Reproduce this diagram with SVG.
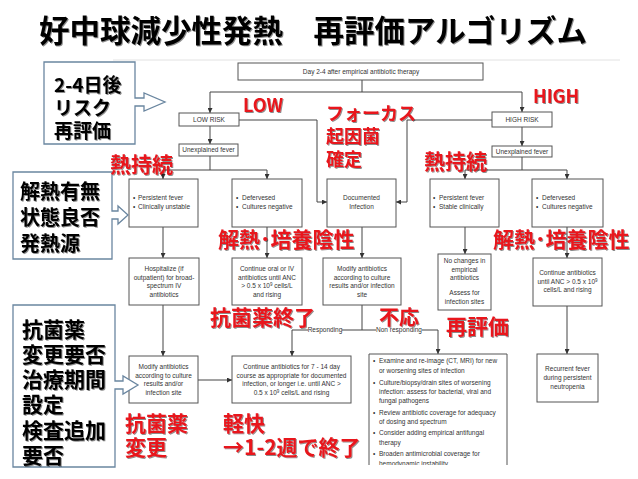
<svg xmlns="http://www.w3.org/2000/svg" width="638" height="479" viewBox="0 0 638 479">
<defs>
<style>
.bx{fill:#fff;stroke:#555;stroke-width:1}
.t{font-family:"Liberation Sans",Arial,sans-serif;font-size:6.5px;fill:#333;text-anchor:middle}
.tl{font-family:"Liberation Sans",Arial,sans-serif;font-size:6.5px;fill:#333}
.cn{fill:none;stroke:#444;stroke-width:1}
.red{font-family:"Noto Sans CJK JP",sans-serif;font-weight:700;fill:#e8161c;dominant-baseline:central}
.blk{font-family:"Noto Sans CJK JP",sans-serif;font-weight:700;fill:#000;dominant-baseline:central}
.call{fill:#fff;stroke:#6a86a0;stroke-width:1.3}
</style>
<marker id="ah" markerWidth="5" markerHeight="5" refX="5" refY="2.5" orient="auto" markerUnits="userSpaceOnUse"><path d="M0,0 L5,2.5 L0,5 Z" fill="#333"/></marker>
<filter id="sh" x="-5%" y="-5%" width="110%" height="120%"><feDropShadow dx="1" dy="1" stdDeviation="0.6" flood-color="#000" flood-opacity="0.45"/></filter>
<clipPath id="cut"><rect x="0" y="0" width="638" height="465"/></clipPath>
</defs>
<rect width="638" height="479" fill="#fff"/>

<g id="title"><text x="39" y="29" class="blk" font-size="30.5" filter="url(#sh)">好中球減少性発熱　再評価アルゴリズム</text></g>
<line x1="113" y1="60" x2="620" y2="60" stroke="#e2e2e2" stroke-width="1"/>

<g id="connectors">
<path class="cn" d="M362,80 V92 M210,92 H522"/>
<path class="cn" d="M210,92 V113" marker-end="url(#ah)"/>
<path class="cn" d="M522,92 V112" marker-end="url(#ah)"/>
<path class="cn" d="M210,126 V144" marker-end="url(#ah)"/>
<path class="cn" d="M522,127 V146" marker-end="url(#ah)"/>
<path class="cn" d="M239,120 H317 V202 H327" marker-end="url(#ah)"/>
<path class="cn" d="M492,120 H407 V202 H396" marker-end="url(#ah)"/>
<path class="cn" d="M210,156 V170 M163,170 H267"/>
<path class="cn" d="M163,170 V179" marker-end="url(#ah)"/>
<path class="cn" d="M267,170 V179" marker-end="url(#ah)"/>
<path class="cn" d="M522,157 V170 M465,170 H567"/>
<path class="cn" d="M465,170 V179" marker-end="url(#ah)"/>
<path class="cn" d="M567,170 V179" marker-end="url(#ah)"/>
<path class="cn" d="M163,227 V258" marker-end="url(#ah)"/>
<path class="cn" d="M267,227 V258" marker-end="url(#ah)"/>
<path class="cn" d="M362,227 V258" marker-end="url(#ah)"/>
<path class="cn" d="M465,227 V254" marker-end="url(#ah)"/>
<path class="cn" d="M567,227 V258" marker-end="url(#ah)"/>
<path class="cn" d="M163,305 V356" marker-end="url(#ah)"/>
<path class="cn" d="M198,380 H232" marker-end="url(#ah)"/>
<path class="cn" d="M362,305 V330 M292,330 H438"/>
<path class="cn" d="M292,330 V356" marker-end="url(#ah)"/>
<path class="cn" d="M438,330 V354" marker-end="url(#ah)"/>
<path class="cn" d="M567,306 V354" marker-end="url(#ah)"/>
<rect x="308" y="326" width="34" height="8" fill="#fff"/>
<text x="325" y="332.3" class="t">Responding</text>
<rect x="376" y="326" width="46" height="8" fill="#fff"/>
<text x="399" y="332.3" class="t">Non responding</text>
</g>

<g id="day"><rect class="bx" x="238" y="63" width="245" height="17"/><text x="361" y="74" class="t">Day 2-4 after empirical antibiotic therapy</text></g>
<g id="lowrisk"><rect class="bx" x="179" y="113" width="60" height="13"/><text x="209" y="122" class="t">LOW RISK</text></g>
<g id="highrisk"><rect class="bx" x="492" y="112" width="60" height="15"/><text x="522" y="122" class="t">HIGH RISK</text></g>
<g id="unexp-low"><rect class="bx" x="179" y="144" width="59" height="12"/><text x="208.5" y="152.3" class="t">Unexplained fever</text></g>
<g id="unexp-high"><rect class="bx" x="492" y="146" width="60" height="11"/><text x="522" y="153.8" class="t">Unexplained fever</text></g>

<g id="pers-low"><rect class="bx" x="129" y="179" width="69" height="48"/>
<text x="133" y="200.3" class="tl">•</text><text x="138" y="200.3" class="tl">Persistent fever</text>
<text x="133" y="209.3" class="tl">•</text><text x="138" y="209.3" class="tl">Clinically unstable</text></g>
<g id="def-low"><rect class="bx" x="232" y="179" width="70" height="48"/>
<text x="236" y="200.3" class="tl">•</text><text x="242" y="200.3" class="tl">Defervesed</text>
<text x="236" y="209.3" class="tl">•</text><text x="242" y="209.3" class="tl">Cultures negative</text></g>
<g id="documented"><rect class="bx" x="327" y="179" width="69" height="48"/>
<text x="361.5" y="200.3" class="t">Documented</text><text x="361.5" y="209.3" class="t">Infection</text></g>
<g id="pers-high"><rect class="bx" x="430" y="179" width="69" height="48"/>
<text x="433" y="200.3" class="tl">•</text><text x="439" y="200.3" class="tl">Persistent fever</text>
<text x="433" y="209.3" class="tl">•</text><text x="439" y="209.3" class="tl">Stable clinically</text></g>
<g id="def-high"><rect class="bx" x="532" y="179" width="71" height="48"/>
<text x="536" y="200.3" class="tl">•</text><text x="542" y="200.3" class="tl">Defervesed</text>
<text x="536" y="209.3" class="tl">•</text><text x="542" y="209.3" class="tl">Cultures negative</text></g>

<g id="hosp"><rect class="bx" x="129" y="258" width="70" height="47"/>
<text x="164" y="271.3" class="t">Hospitalize (if</text><text x="164" y="279.8" class="t">outpatient) for broad-</text>
<text x="164" y="288.3" class="t">spectrum IV</text><text x="164" y="297" class="t">antibiotics</text></g>
<g id="cont-oral"><rect class="bx" x="232" y="258" width="70" height="47"/>
<text x="267" y="271.3" class="t">Continue oral or IV</text><text x="267" y="279.8" class="t">antibiotics until ANC</text>
<text x="267" y="288.3" class="t">&gt; 0.5 x 10<tspan font-size="4.5" dy="-2.2">9</tspan><tspan dy="2.2"> cells/L</tspan></text><text x="267" y="297" class="t">and rising</text></g>
<g id="modify-mid"><rect class="bx" x="323" y="258" width="78" height="47"/>
<text x="362" y="271.3" class="t">Modify antibiotics</text><text x="362" y="279.8" class="t">according to culture</text>
<text x="362" y="288.3" class="t">results and/or infection</text><text x="362" y="297" class="t">site</text></g>
<g id="nochange"><rect class="bx" x="438" y="254" width="53" height="56"/>
<text x="464.5" y="263.3" class="t">No changes in</text><text x="464.5" y="271.8" class="t">empirical</text>
<text x="464.5" y="280.3" class="t">antibiotics</text><text x="464.5" y="295.3" class="t">Assess for</text>
<text x="464.5" y="304" class="t">infection sites</text></g>
<g id="cont-high"><rect class="bx" x="533" y="258" width="69" height="48"/>
<text x="567.5" y="275.3" class="t">Continue antibiotics</text>
<text x="567.5" y="283.8" class="t">until ANC &gt; 0.5 x 10<tspan font-size="4.5" dy="-2.2">9</tspan></text>
<text x="567.5" y="292.3" class="t">cells/L  and  rising</text></g>
<g id="recurrent"><rect class="bx" x="537" y="354" width="61" height="48"/>
<text x="567.5" y="371.3" class="t">Recurrent fever</text><text x="567.5" y="380" class="t">during persistent</text>
<text x="567.5" y="388.8" class="t">neutropenia</text></g>
<g id="modify-left"><rect class="bx" x="129" y="356" width="69" height="47"/>
<text x="163.5" y="369.3" class="t">Modify antibiotics</text><text x="163.5" y="377.8" class="t">according to culture</text>
<text x="163.5" y="386.3" class="t">results and/or</text><text x="163.5" y="394.8" class="t">infection site</text></g>
<g id="cont-7-14"><rect class="bx" x="232" y="356" width="119" height="47"/>
<text x="291.5" y="369.3" class="t">Continue antibiotics for 7 - 14 day</text>
<text x="291.5" y="377.8" class="t">course as appropriate for documented</text>
<text x="291.5" y="386.3" class="t">infection, or longer i.e. until ANC &gt;</text>
<text x="291.5" y="395" class="t">0.5 x 10<tspan font-size="4.5" dy="-2.2">9</tspan><tspan dy="2.2"> cells/L  and rising</tspan></text></g>
<g id="examine" clip-path="url(#cut)"><path class="bx" d="M369,470 V354 H507 V470"/>
<text x="373" y="363.3" class="tl">•</text><text x="379" y="363.3" class="tl">Examine and re-image (CT, MRI) for new</text>
<text x="379" y="373.3" class="tl">or worsening sites of infection</text>
<text x="373" y="385.3" class="tl">•</text><text x="379" y="385.3" class="tl">Culture/biopsy/drain sites of worsening</text>
<text x="379" y="394.3" class="tl">infection: assess for bacterial, viral and</text>
<text x="379" y="403.3" class="tl">fungal pathogens</text>
<text x="373" y="415.3" class="tl">•</text><text x="379" y="415.3" class="tl">Review antibiotic coverage for adequacy</text>
<text x="379" y="424.3" class="tl">of dosing and spectrum</text>
<text x="373" y="435.3" class="tl">•</text><text x="379" y="435.3" class="tl">Consider adding empirical antifungal</text>
<text x="379" y="445.3" class="tl">therapy</text>
<text x="373" y="456.3" class="tl">•</text><text x="379" y="456.3" class="tl">Broaden antimicrobial coverage for</text>
<text x="379" y="465.8" class="tl">hemodynamic instability</text></g>

<g id="note1"><path class="call" d="M44,62 H135 V98 H144 V93 L165,102 L144,111 V106 H135 V144 H44 Z"/>
<g filter="url(#sh)"><text x="54" y="83" class="blk" font-size="19">2-4日後</text>
<text x="54" y="106" class="blk" font-size="19">リスク</text>
<text x="54" y="129" class="blk" font-size="19">再評価</text></g></g>
<g id="note2"><path class="call" d="M13,172 H112 V211 H118 V206 L128,215 L118,224 V219 H112 V259 H13 Z"/>
<g filter="url(#sh)"><text x="20" y="190" class="blk" font-size="20">解熱有無</text>
<text x="20" y="216" class="blk" font-size="20">状態良否</text>
<text x="20" y="242" class="blk" font-size="20">発熱源</text></g></g>
<g id="note3"><path class="call" d="M13,305 H115 V381 H123 V376 L138,385 L123,394 V389 H115 V467 H13 Z"/>
<g filter="url(#sh)"><text x="22" y="328" class="blk" font-size="21">抗菌薬</text>
<text x="22" y="353" class="blk" font-size="21">変更要否</text>
<text x="22" y="378" class="blk" font-size="21">治療期間</text>
<text x="22" y="403" class="blk" font-size="21">設定</text>
<text x="22" y="429" class="blk" font-size="21">検査追加</text>
<text x="22" y="454" class="blk" font-size="21">要否</text></g></g>

<g id="labels" filter="url(#sh)">
<text x="243" y="104" class="red" font-size="18">LOW</text>
<text x="533" y="95" class="red" font-size="18">HIGH</text>
<text x="326" y="112" class="red" font-size="18">フォーカス</text>
<text x="326" y="135" class="red" font-size="18">起因菌</text>
<text x="326" y="158" class="red" font-size="18">確定</text>
<text x="110" y="163" class="red" font-size="21">熱持続</text>
<text x="424" y="160" class="red" font-size="21">熱持続</text>
<text x="218" y="238" class="red" font-size="21">解熱･培養陰性</text>
<text x="493" y="238" class="red" font-size="21">解熱･培養陰性</text>
<text x="210" y="316" class="red" font-size="21">抗菌薬終了</text>
<text x="379" y="316" class="red" font-size="20">不応</text>
<text x="446" y="325" class="red" font-size="21">再評価</text>
<text x="125" y="422" class="red" font-size="21">抗菌薬</text>
<text x="125" y="446" class="red" font-size="21">変更</text>
<text x="223" y="422" class="red" font-size="21">軽快</text>
<text x="223" y="446" class="red" font-size="21">→1-2週で終了</text>
</g>
</svg>
